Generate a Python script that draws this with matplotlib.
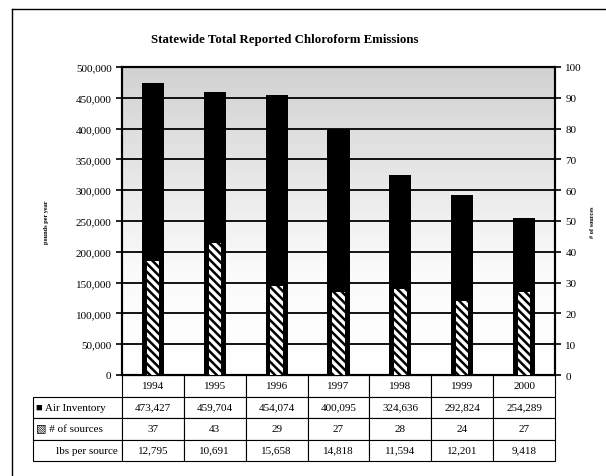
import numpy as np
import matplotlib.pyplot as plt
from matplotlib.colors import LinearSegmentedColormap

years = ['1994', '1995', '1996', '1997', '1998', '1999', '2000']
air_inventory = [473427, 459704, 454074, 400095, 324636, 292824, 254289]
num_sources = [37, 43, 29, 27, 28, 24, 27]
lbs_per_source = [12795, 10691, 15658, 14818, 11594, 12201, 9418]
row_labels = ['\u25a0 Air Inventory', '\u25a7 # of sources', 'lbs per source']

plt.rcParams['font.family'] = ['Liberation Serif', 'DejaVu Sans']

fig = plt.figure(figsize=(6.06, 4.77), dpi=100)
ax = fig.add_axes([122/606, 1-376/477, 433/606, 308/477])
ax2 = ax.twinx()

# shaded background, grey at top fading to white
cmap = LinearSegmentedColormap.from_list('bg', ['#ffffff', '#fbfbfb', '#e6e6e6', '#d2d2d2'])
grad = np.linspace(0, 1, 256).reshape(-1, 1)
ax.imshow(grad, extent=[0, 1, 0, 1], transform=ax.transAxes, cmap=cmap,
          origin='lower', aspect='auto', zorder=0)

x = np.arange(len(years))
ax.bar(x, air_inventory, width=0.36, color='black', zorder=2)
ax.set_xlim(-0.5, len(years) - 0.5)
ax.set_ylim(0, 500000)
ax.set_yticks(np.arange(0, 500001, 50000))
ax.set_yticklabels(['{:,}'.format(v) for v in range(0, 500001, 50000)])
ax.yaxis.grid(True, color='black', linewidth=1.3, zorder=1)
ax.set_axisbelow(True)
ax.set_xticks([])
ax.set_ylabel('pounds per year', fontsize=4.5, fontweight='bold', labelpad=19)

plt.rcParams['hatch.linewidth'] = 1.8
ax2.bar(x, num_sources, width=0.2, color='white', edgecolor='black',
        hatch='\\\\\\\\', linewidth=0, zorder=3)
ax2.set_ylim(0, 100)
ax2.set_yticks(np.arange(0, 101, 10))
ax2.set_ylabel('# of sources', fontsize=4.5, fontweight='bold', labelpad=6)

for a in (ax, ax2):
    a.tick_params(labelsize=8, width=1.2, length=4)
    for s in a.spines.values():
        s.set_linewidth(1.5)
        s.set_color('black')

fig.text(285/606, 1-40/477, 'Statewide Total Reported Chloroform Emissions',
         ha='center', va='center', fontsize=9.3, fontweight='bold')

cell_text = [[''] + years,
             [row_labels[0]] + ['{:,}'.format(v) for v in air_inventory],
             [row_labels[1]] + [str(v) for v in num_sources],
             [row_labels[2]] + ['{:,}'.format(v) for v in lbs_per_source]]
lab_w = 89/433
h = 86/308
tbl = ax.table(cellText=cell_text, cellLoc='center',
               colWidths=[lab_w] + [1/7]*7,
               bbox=[-lab_w, -h, 1 + lab_w, h])
tbl.auto_set_font_size(False)
tbl.set_fontsize(8)
for (r, c), cell in tbl.get_celld().items():
    cell.set_linewidth(0.8)
    cell.set_edgecolor('black')
    if r == 0 and c == 0:
        cell.visible_edges = ''
    if c == 0 and r in (1, 2):
        cell.set_text_props(ha='left')
        cell.PAD = 0.03
    if c == 0 and r == 3:
        cell.set_text_props(ha='right')
        cell.PAD = 0.05

# outer border of the chart
fig.add_artist(plt.Line2D([12/606, 12/606], [0, 1-10/477], color='black', lw=1))
fig.add_artist(plt.Line2D([12/606, 1], [1-10/477, 1-10/477], color='black', lw=1))

fig.savefig('out.png', dpi=100)
